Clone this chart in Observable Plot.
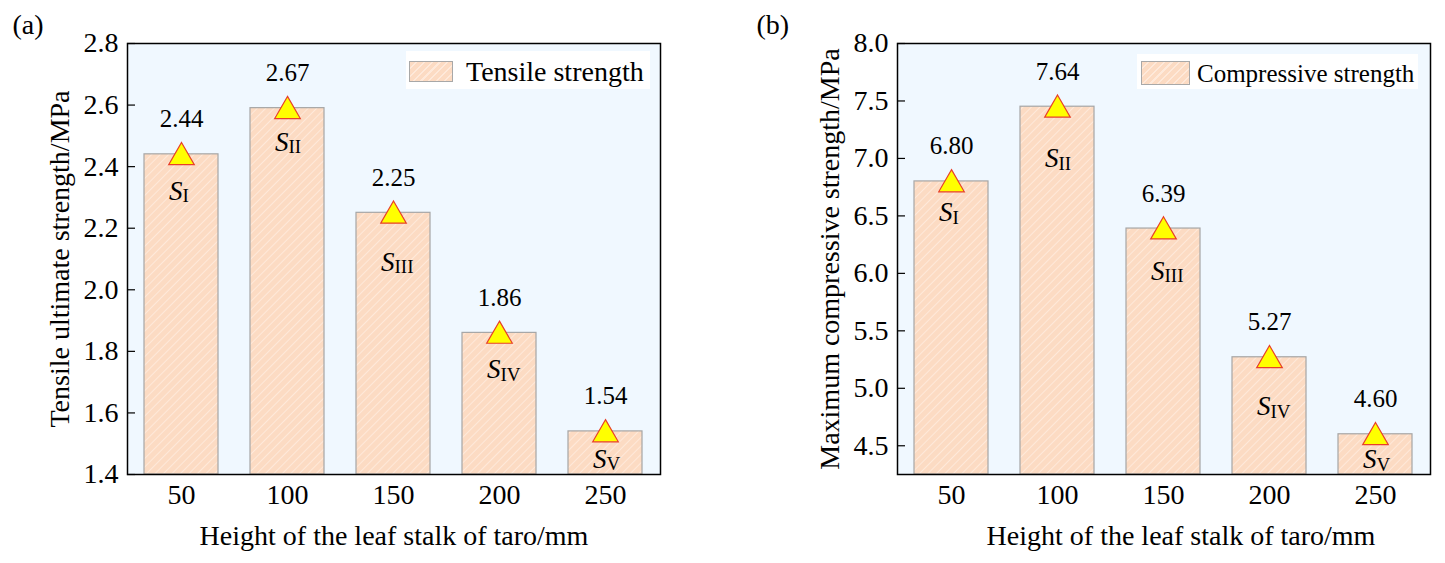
<!DOCTYPE html>
<html><head><meta charset="utf-8">
<script src="https://cdn.jsdelivr.net/npm/d3@7"></script>
<script src="https://cdn.jsdelivr.net/npm/@observablehq/plot@0.6"></script>
<style>
body{margin:0;background:#fff;}
#wrap{position:relative;width:1445px;height:563px;display:flex;font-family:'Liberation Serif','Times New Roman',serif;color:#000;}
#wrap svg{overflow:visible;}
.legbox{position:absolute;background:#fff;}
.sw{position:absolute;border:1px solid #A8A8A8;box-sizing:border-box;background-color:#FCDBC3;
  background-image:repeating-linear-gradient(135deg,#FCDBC3 0 4px,#FEE9DA 4px 5.5px);}
.lt{position:absolute;white-space:nowrap;}
</style>
</head><body>
<div id="wrap"><div id="pa" style="width:722px;height:563px"></div><div id="pb" style="width:723px;height:563px"></div></div>
<script>
const heights = [50, 100, 150, 200, 250];
const tensileBar = [2.44, 2.59, 2.25, 1.86, 1.54];
const tensileLabel = [2.44, 2.67, 2.25, 1.86, 1.54];
const compBar = [6.80, 7.45, 6.39, 5.27, 4.60];
const compLabel = [6.80, 7.64, 6.39, 5.27, 4.60];
const subs = ["I", "II", "III", "IV", "V"];
// where the S-subscript annotations sit, in axis units
const sLabelA = [2.32, 2.48, 2.09, 1.74, 1.45];
const sLabelB = [6.53, 7.00, 6.02, 4.84, 4.38];
const yTicksA = [1.4, 1.6, 1.8, 2.0, 2.2, 2.4, 2.6, 2.8];
const yTicksB = [4.5, 5.0, 5.5, 6.0, 6.5, 7.0, 7.5, 8.0];
const yDomainA = [1.4, 2.8];
const yDomainB = [4.25, 8.0];
const xTitle = "Height of the leaf stalk of taro/mm";
const FONT = "'Liberation Serif', 'Times New Roman', serif";

function panel({id, bars, labels, sPos, yDomain, yTicks, yTitle, tag, marginLeft, marginRight, width, xTitleDx, tagDx}) {
  const data = heights.map((h, i) => ({h, v: bars[i], lab: labels[i], sub: subs[i], s: sPos[i]}));
  const fw = width - marginLeft - marginRight;
  const svg = Plot.plot({
    width, height: 563, marginLeft, marginRight, marginTop: 43, marginBottom: 89,
    style: {fontFamily: FONT, fontSize: "28px", background: "transparent", color: "black"},
    x: {type: "band", domain: heights, paddingInner: 0.3, paddingOuter: 0.15},
    y: {domain: yDomain},
    marks: [
      Plot.frame({fill: "#F0F8FF"}),
      Plot.barY(data, {x: "h", y1: yDomain[0], y2: "v", fill: `url(#hatch-${id})`, stroke: "#A6A6A6", strokeWidth: 1.2}),
      Plot.dot(data, {x: "h", y: "v", symbol: "triangle", r: 9.5, fill: "#FFFF00", stroke: "#E8402A", strokeWidth: 1.2, dy: 3}),
      Plot.text(data, {x: "h", y: "v", text: d => d.lab.toFixed(2), dy: -35, fontSize: 25, lineAnchor: "middle", fontFamily: FONT}),
      Plot.text(data, {x: "h", y: "s", text: () => "S", fontStyle: "italic", textAnchor: "end", dx: 1, fontSize: 27, lineAnchor: "middle", fontFamily: FONT}),
      Plot.text(data, {x: "h", y: "s", text: "sub", textAnchor: "start", dy: 5, dx: 1, fontSize: 19, lineAnchor: "middle", fontFamily: FONT}),
      Plot.tickY(yTicks, {y: d => d, insetRight: fw - 8, stroke: "black", strokeWidth: 1.2}),
      Plot.axisY({ticks: yTicks, tickSize: 0, tickPadding: 9, tickFormat: d3.format(".1f"), label: null, fontSize: 28, fontFamily: FONT}),
      Plot.axisX({tickSize: 0, tickPadding: 10, label: null, fontSize: 28, fontFamily: FONT}),
      Plot.text([yTitle], {text: d => d, frameAnchor: "left", textAnchor: "middle", rotate: -90, dx: -67, fontSize: 28, lineAnchor: "middle", fontFamily: FONT}),
      Plot.text([xTitle], {text: d => d, frameAnchor: "bottom", textAnchor: "middle", dy: 62, dx: xTitleDx, fontSize: 28, lineAnchor: "middle", fontFamily: FONT}),
      Plot.text([tag], {text: d => d, frameAnchor: "top-left", textAnchor: "start", dx: tagDx, dy: -18, fontSize: 28, lineAnchor: "middle", fontFamily: FONT}),
      Plot.frame({stroke: "black", strokeWidth: 1.5})
    ]
  });
  d3.select(svg).insert("defs", ":first-child").html(
    `<pattern id="hatch-${id}" patternUnits="userSpaceOnUse" width="6" height="6" patternTransform="rotate(45)">` +
    `<rect width="6" height="6" fill="#FCDBC3"/><line x1="0" y1="0" x2="0" y2="6" stroke="#FEE9DA" stroke-width="2"/></pattern>`);
  return svg;
}

document.getElementById("pa").appendChild(panel({
  id: "a", bars: tensileBar, labels: tensileLabel, sPos: sLabelA, yDomain: yDomainA, yTicks: yTicksA,
  yTitle: "Tensile ultimate strength/MPa", tag: "(a)", marginLeft: 127, marginRight: 62, width: 722, xTitleDx: 0, tagDx: -115
}));
document.getElementById("pb").appendChild(panel({
  id: "b", bars: compBar, labels: compLabel, sPos: sLabelB, yDomain: yDomainB, yTicks: yTicksB,
  yTitle: "Maximum compressive strength/MPa", tag: "(b)", marginLeft: 175, marginRight: 15, width: 723, xTitleDx: 17, tagDx: -141
}));

function legend(box, sw, text, fontSize, gap) {
  const wrap = document.getElementById("wrap");
  const b = document.createElement("div");
  b.className = "legbox";
  Object.assign(b.style, {left: box[0] + "px", top: box[1] + "px", width: box[2] + "px", height: box[3] + "px"});
  wrap.appendChild(b);
  const s = document.createElement("div");
  s.className = "sw";
  Object.assign(s.style, {left: sw[0] + "px", top: sw[1] + "px", width: sw[2] + "px", height: sw[3] + "px"});
  wrap.appendChild(s);
  const t = document.createElement("div");
  t.className = "lt";
  t.textContent = text;
  const cy = sw[1] + sw[3] / 2;
  Object.assign(t.style, {left: (sw[0] + sw[2] + gap) + "px", top: (cy - fontSize / 2) + "px", fontSize: fontSize + "px", lineHeight: fontSize + "px"});
  wrap.appendChild(t);
}
legend([406, 51, 244, 38], [409, 61, 44, 21], "Tensile strength", 28, 13);
legend([1137, 54, 281, 35], [1141, 61, 49, 24], "Compressive strength", 25, 7);
</script>
</body></html>
